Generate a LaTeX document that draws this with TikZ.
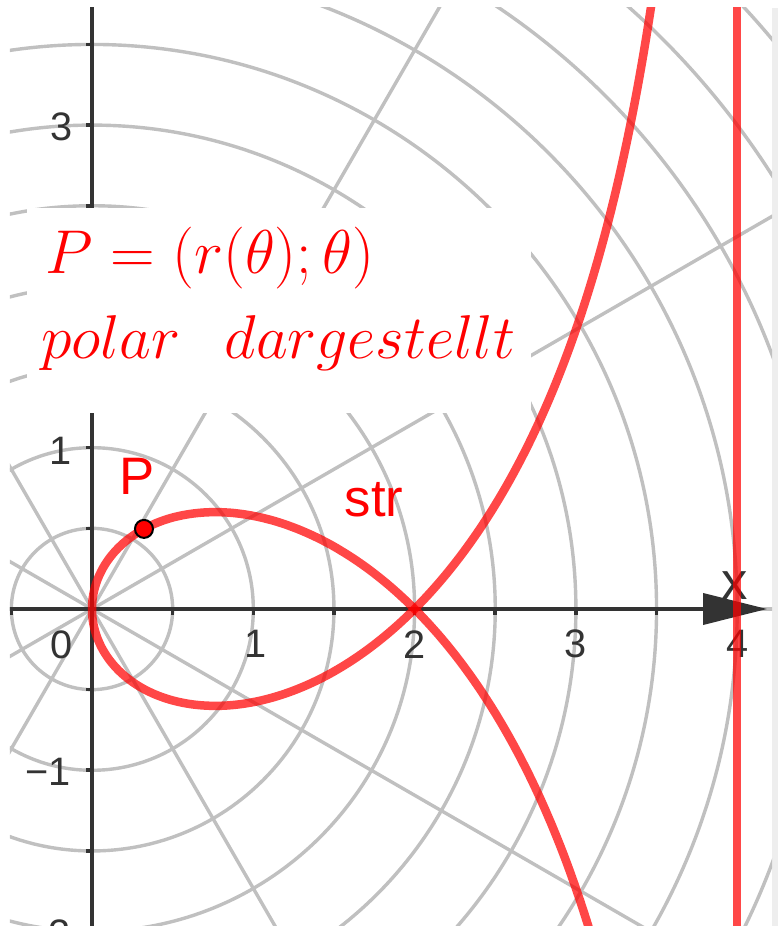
\documentclass[tikz,border=0pt]{standalone}
\usepackage{fix-cm}
\usepackage{fontspec}
\newfontfamily\labfont{Liberation Sans}
\usetikzlibrary{arrows.meta}
\definecolor{gridgray}{HTML}{C0C0C0}
\definecolor{axisgray}{HTML}{333333}
\definecolor{stripgray}{HTML}{EEEEEE}
\begin{document}
\begin{tikzpicture}[x=16.13mm,y=16.13mm,
  gridline/.style={draw=gridgray,line width=0.34mm},
  axisline/.style={draw=axisgray,line width=0.36mm},
  tickmark/.style={draw=axisgray,line width=0.36mm},
  ticklab/.style={inner sep=0pt,font=\labfont\fontsize{11.3}{13}\selectfont,text=axisgray},
  biglab/.style={inner sep=0pt,font=\labfont\fontsize{15}{18}\selectfont},
  curve/.style={draw=red,draw opacity=0.72,line width=0.85mm},
  mathlab/.style={inner sep=0pt,anchor=base west,text=red,font=\fontsize{17.6}{21}\selectfont}]
\useasboundingbox (-0.5704,-1.9653) rectangle (4.2530,3.7756);
\fill[white] (-0.5704,-1.9653) rectangle (4.2530,3.7756);
\fill[stripgray] (4.2157,-1.9653) rectangle (4.2530,3.7260);
\begin{scope}
\clip (-0.5084,-1.9653) rectangle (4.2157,3.7260);
% polar grid
\foreach \r in {0.5,1,...,6} \draw[gridline] (0,0) circle (\r);
\foreach \a in {0,30,...,330} \draw[gridline] (0,0) -- (\a:6.5);
% axes
\draw[axisline] (0,-2.2) -- (0,3.9);
\foreach \t in {-0.5,0.5,1,1.5,2,2.5,3,3.5} \draw[tickmark] (\t,0) -- (\t,-0.04);
\foreach \t in {-2,-1.5,-1,-0.5,0.5,1,1.5,2,2.5,3,3.5} \draw[tickmark] (0,\t) -- (-0.04,\t);
\draw[axisline,-{Triangle[length=6.4mm,width=3.1mm]}] (-0.6,0) -- (4.185,0);
% tick labels
\node[ticklab] (ly3) at (-0.186,2.988) {3};
\node[ticklab] (ly1) at (-0.198,0.980) {1};
\node[ticklab] (l0) at (-0.186,-0.223) {0};
\node[ticklab] (lym1) at (-0.273,-1.011) {−1};
\node[ticklab] (lym2) at (-0.273,-2.015) {−2};
\node[ticklab] (lx1) at (1.011,-0.217) {1};
\node[ticklab] (lx2) at (2.0,-0.222) {2};
\node[ticklab] (lx3) at (3.0,-0.217) {3};
\node[ticklab] (lx4) at (4.0,-0.217) {4};
\node[biglab,text=axisgray] (labx) at (3.986,0.143) {x};
% label box
\fill[white] (-0.403,1.215) rectangle (2.722,2.486);
\node[mathlab] (formula) at (-0.29,2.083) {$P=(r(\theta);\theta)$};
\node[mathlab] (caption) at (-0.32,1.550) {$polar\hspace{4.4mm}dargestellt$};
% strophoid
\draw[curve] plot[domain=-1.95:0,samples=200,smooth] ({4*\x*\x/(\x*\x+1)},{2*\x*(\x*\x-1)/(\x*\x+1)});
\draw[curve] plot[domain=0:2.7,samples=200,smooth] ({4*\x*\x/(\x*\x+1)},{2*\x*(\x*\x-1)/(\x*\x+1)});
% asymptote
\draw[curve] (4,-2.2) -- (4,3.9);
% point P
\node[circle,fill=red,draw=black,line width=0.2mm,minimum size=1.8mm,inner sep=0pt] (ptP) at (0.3222,0.4966) {};
\node[biglab,text=red] (labP) at (0.279,0.825) {P};
\node[biglab,text=red] (labstr) at (1.748,0.676) {str};
\end{scope}
\end{tikzpicture}
\end{document}
